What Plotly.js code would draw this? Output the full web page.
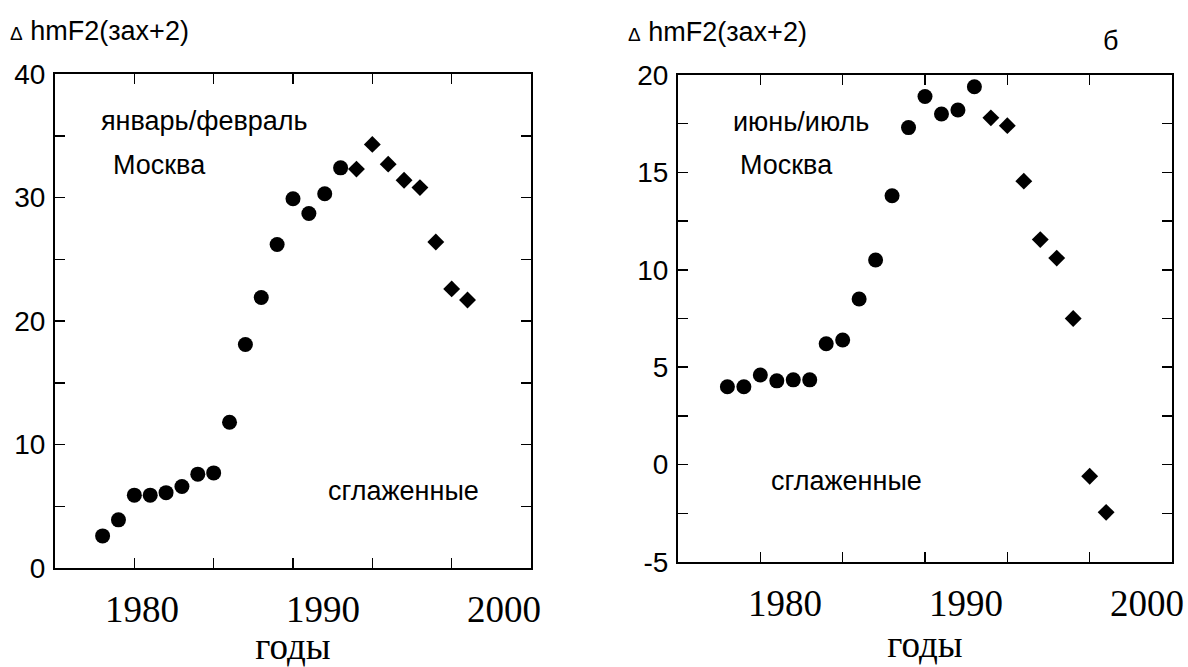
<!DOCTYPE html>
<html>
<head>
<meta charset="utf-8">
<script src="https://cdn.plot.ly/plotly-3.0.1.min.js"></script>
<style>html,body{margin:0;padding:0;background:#fff;}#chart{width:1188px;height:667px;}</style>
</head>
<body>
<div id="chart"></div>
<script>
// ---- data ----
const circleYears = [1978,1979,1980,1981,1982,1983,1984,1985,1986,1987,1988,1989,1990,1991,1992,1993];
const diamondYears = [1994,1995,1996,1997,1998,1999,2000,2001];

const janFebCircles = [2.6,3.9,5.9,5.9,6.1,6.6,7.6,7.7,11.8,18.1,21.9,26.2,29.9,28.7,30.3,32.4];
const janFebDiamonds = [32.3,34.3,32.7,31.4,30.8,26.4,22.6,21.7];

const junJulCircles = [4.0,4.0,4.6,4.3,4.35,4.35,6.2,6.4,8.5,10.5,13.8,17.3,18.9,18.0,18.2,19.4];
const junJulDiamonds = [17.8,17.4,14.55,11.55,10.6,7.5,-0.6,-2.45];

const xTickVals = [1980,1985,1990,1995,2000];
const yearLabels = [1980,1990,2000];
const leftYTicks = [0,5,10,15,20,25,30,35,40];
const leftYText = ['0','','10','','20','','30','','40'];
const rightYTicks = [-5,-2.5,0,2.5,5,7.5,10,12.5,15,17.5,20];
const rightYText = ['-5','','0','','5','','10','','15','','20'];

const yTitle = '<span style="font-size:19px">\u0394</span> hmF2(зах+2)';
const xTitle = 'годы';

// ---- layout helpers ----
const W = 1188, H = 667;
const px = v => v / W;
const py = v => 1 - v / H;
const sans = 'Liberation Sans, Arial, sans-serif';
const serif = 'Liberation Serif, Times New Roman, serif';

const circleMarker = {symbol:'circle', size:15, color:'#000'};
const diamondMarker = {symbol:'diamond', size:13, color:'#000'};

const traces = [
  {x:circleYears, y:janFebCircles, xaxis:'x', yaxis:'y', mode:'markers', marker:circleMarker, showlegend:false, hoverinfo:'x+y'},
  {x:diamondYears, y:janFebDiamonds, xaxis:'x', yaxis:'y', mode:'markers', marker:diamondMarker, showlegend:false, hoverinfo:'x+y'},
  {x:circleYears, y:junJulCircles, xaxis:'x2', yaxis:'y2', mode:'markers', marker:circleMarker, showlegend:false, hoverinfo:'x+y'},
  {x:diamondYears, y:junJulDiamonds, xaxis:'x2', yaxis:'y2', mode:'markers', marker:diamondMarker, showlegend:false, hoverinfo:'x+y'},
  {x:[], y:[], xaxis:'x3', yaxis:'y', mode:'markers', showlegend:false, hoverinfo:'skip'},
  {x:[], y:[], xaxis:'x4', yaxis:'y2', mode:'markers', showlegend:false, hoverinfo:'skip'}
];

const tickAxis = (domain, anchor) => ({
  domain: domain, anchor: anchor, range:[1975,2005],
  tickmode:'array', tickvals:xTickVals, showticklabels:false,
  ticks:'inside', ticklen:10, tickwidth:1.5, tickcolor:'#000',
  showline:true, linewidth:2, linecolor:'#000', mirror:'ticks',
  showgrid:false, zeroline:false, fixedrange:true
});
const labelAxis = (over, anchor, range, standoff) => ({
  overlaying: over, anchor: anchor, side:'bottom', range: range,
  tickmode:'array', tickvals:yearLabels, ticktext:yearLabels.map(String),
  ticks:'', showline:false, showgrid:false, zeroline:false,
  tickfont:{family:serif, size:37, color:'#000'}, ticklabelstandoff:16,
  title:{text:xTitle, font:{family:serif, size:37, color:'#000'}, standoff:standoff},
  fixedrange:true
});
const yAxis = (domain, anchor, range, vals, text) => ({
  domain: domain, anchor: anchor, range: range,
  tickmode:'array', tickvals: vals, ticktext: text,
  ticks:'inside', ticklen:10, tickwidth:1.5, tickcolor:'#000',
  showline:true, linewidth:2, linecolor:'#000', mirror:'ticks',
  showgrid:false, zeroline:false, fixedrange:true,
  tickfont:{family:sans, size:28, color:'#000'}, ticklabelstandoff:2
});

const ann = (text, x, y, anchor) => ({
  text: text, xref:'paper', yref:'paper', x: px(x), y: py(y),
  xanchor: anchor || 'center', yanchor:'middle', showarrow:false,
  font:{family:sans, size:27, color:'#000'}
});

const layout = {
  width:W, height:H, margin:{l:0,r:0,t:0,b:0}, paper_bgcolor:'#fff', plot_bgcolor:'#fff',
  showlegend:false,
  xaxis: tickAxis([px(55), px(531)], 'y'),
  xaxis2: tickAxis([px(678), px(1172)], 'y2'),
  xaxis3: labelAxis('x', 'y', [1975.19, 2001.49], 4),
  xaxis4: labelAxis('x2', 'y2', [1974.09, 2001.38], 4),
  yaxis: yAxis([1-568/H, 1-74/H], 'x', [0,40], leftYTicks, leftYText),
  yaxis2: yAxis([1-562/H, 1-75/H], 'x2', [-5,20], rightYTicks, rightYText),
  annotations: [
    ann(yTitle, 8, 31, 'left'),
    ann(yTitle, 626, 32, 'left'),
    ann('январь/февраль', 204, 121),
    ann('Москва', 159, 165),
    ann('сглаженные', 403, 491),
    ann('июнь/июль', 801, 122),
    ann('Москва', 786, 165),
    ann('сглаженные', 847, 481),
    ann('б', 1110, 41)
  ]
};

Plotly.newPlot('chart', traces, layout, {displayModeBar:false, staticPlot:true});
</script>
</body>
</html>
